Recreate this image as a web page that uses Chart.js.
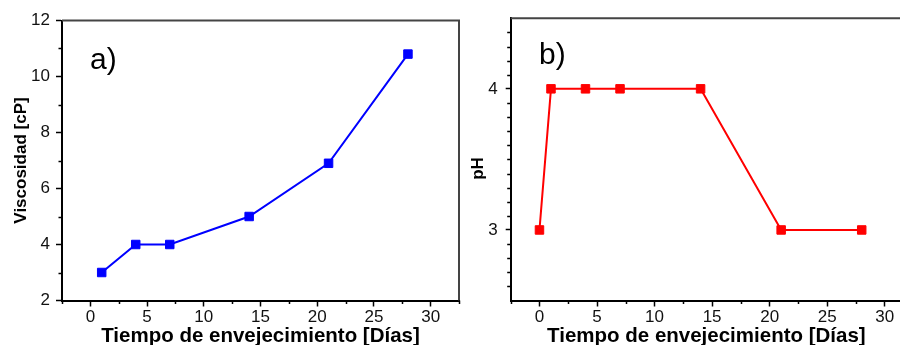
<!DOCTYPE html>
<html>
<head>
<meta charset="utf-8">
<script src="https://cdn.jsdelivr.net/npm/chart.js@4/dist/chart.umd.min.js"></script>
<style>
  html, body { margin: 0; padding: 0; background: #fff; width: 900px; height: 345px; overflow: hidden; }
  #panelA { position: absolute; left: 0; top: 0; }
  #panelB { position: absolute; left: 460px; top: 0; }
</style>
</head>
<body>
<canvas id="panelA" width="466" height="360"></canvas>
<canvas id="panelB" width="470" height="360"></canvas>
<script>
// Viscosity over ageing time
const diasVisc = [1, 4, 7, 14, 21, 28];
const viscosidad = [3.0, 4.0, 4.0, 5.0, 6.9, 10.8];

// pH over ageing time
const diasPH = [0, 1, 4, 7, 14, 21, 28];
const valoresPH = [3, 4, 4, 4, 4, 3, 3];

// Axis ticks
const ticksDias = [0, 5, 10, 15, 20, 25, 30];
const ticksDiasMenores = [-2.5, 2.5, 7.5, 12.5, 17.5, 22.5, 27.5, 32.5];
const ticksVisc = [2, 4, 6, 8, 10, 12];
const ticksViscMenores = [3, 5, 7, 9, 11];
const ticksPH = [3, 4];
const ticksPHMenores = [2.6, 2.7, 2.8, 2.9, 3.1, 3.2, 3.3, 3.4, 3.5, 3.6, 3.7, 3.8, 3.9,
                        4.1, 4.2, 4.3, 4.4];

const FONT = "'Liberation Sans', Arial, sans-serif";
const INK = '#111';
const TICK_SIZE = 17;

function pts(xs, ys) { return xs.map((x, i) => ({ x: x, y: ys[i] })); }

// Short outward minor ticks on both axes
const minorTicks = {
  id: 'minorTicks',
  afterDraw(chart, args, opts) {
    const ctx = chart.ctx;
    const { x, y } = chart.scales;
    ctx.save();
    ctx.strokeStyle = '#000';
    ctx.lineWidth = 1.5;
    ctx.beginPath();
    (opts.x || []).forEach(v => {
      const px = Math.round(x.getPixelForValue(v)) + 0.5;
      ctx.moveTo(px, y.bottom);
      ctx.lineTo(px, y.bottom + 3.5);
    });
    (opts.y || []).forEach(v => {
      const py = Math.round(y.getPixelForValue(v)) + 0.5;
      ctx.moveTo(x.left - 3.5, py);
      ctx.lineTo(x.left, py);
    });
    ctx.stroke();
    ctx.restore();
  }
};

// Top and right edges of the plot frame
const frame = {
  id: 'frame',
  beforeDatasetsDraw(chart) {
    const { ctx, chartArea: a } = chart;
    ctx.save();
    ctx.strokeStyle = '#444';
    ctx.lineWidth = 2;
    ctx.beginPath();
    ctx.moveTo(a.left, a.top);
    ctx.lineTo(a.right, a.top);
    ctx.lineTo(a.right, a.bottom);
    ctx.stroke();
    ctx.restore();
  }
};

// Panel letter and free-standing axis captions
const captions = {
  id: 'captions',
  afterDraw(chart, args, opts) {
    const ctx = chart.ctx;
    (opts.items || []).forEach(it => {
      ctx.save();
      ctx.fillStyle = '#000';
      ctx.font = it.font;
      ctx.textAlign = it.align || 'left';
      ctx.textBaseline = it.baseline || 'alphabetic';
      ctx.translate(it.x, it.y);
      if (it.rotate) ctx.rotate(it.rotate);
      ctx.fillText(it.text, 0, 0);
      ctx.restore();
    });
  }
};

function xScale(max, titleText) {
  return {
    type: 'linear',
    min: -2.5,
    max: max,
    afterBuildTicks: s => { s.ticks = ticksDias.map(v => ({ value: v })); },
    afterFit: s => { s.height = 59.5; },
    border: { display: true, color: '#000', width: 2 },
    grid: { display: true, drawOnChartArea: false, drawTicks: true, tickLength: 6, tickColor: '#000', tickWidth: 1.5 },
    ticks: { color: INK, font: { family: FONT, size: TICK_SIZE }, padding: 1, maxRotation: 0 },
    title: { display: true, text: titleText, color: '#000',
             font: { family: FONT, size: 20.5, weight: 'bold' }, padding: { top: 0, bottom: 11.7 } }
  };
}

const baseOpts = {
  responsive: false,
  animation: false,
  events: [],
  plugins: { legend: { display: false }, tooltip: { enabled: false } }
};

new Chart(document.getElementById('panelA'), {
  type: 'line',
  data: {
    datasets: [{
      data: pts(diasVisc, viscosidad),
      borderColor: '#0000ff',
      backgroundColor: '#0000ff',
      borderWidth: 2,
      pointStyle: 'rect',
      pointRadius: 6,
      pointBorderWidth: 1,
      tension: 0
    }]
  },
  options: Object.assign({}, baseOpts, {
    layout: { padding: { left: 0, top: 20.5, right: 3, bottom: 0 } },
    scales: {
      x: xScale(32.5, 'Tiempo de envejecimiento [Días]'),
      y: {
        type: 'linear', min: 2, max: 12,
        afterBuildTicks: s => { s.ticks = ticksVisc.map(v => ({ value: v })); },
        afterFit: s => { s.width = 62; },
        border: { display: true, color: '#000', width: 2 },
        grid: { display: true, drawOnChartArea: false, drawTicks: true, tickLength: 6, tickColor: '#000', tickWidth: 1.5 },
        ticks: { color: INK, font: { family: FONT, size: TICK_SIZE }, padding: 6 },
        title: { display: true, text: 'Viscosidad [cP]', color: '#000',
                 font: { family: FONT, size: 17, weight: 'bold' }, padding: { top: 11, bottom: 0 } }
      }
    },
    plugins: Object.assign({}, baseOpts.plugins, {
      minorTicks: { x: ticksDiasMenores, y: ticksViscMenores },
      captions: { items: [ { text: 'a)', x: 90, y: 69, font: "30px " + FONT } ] }
    })
  }),
  plugins: [frame, minorTicks, captions]
});

new Chart(document.getElementById('panelB'), {
  type: 'line',
  data: {
    datasets: [{
      data: pts(diasPH, valoresPH),
      borderColor: '#ff0000',
      backgroundColor: '#ff0000',
      borderWidth: 2,
      pointStyle: 'rect',
      pointRadius: 6,
      pointBorderWidth: 1,
      tension: 0
    }]
  },
  options: Object.assign({}, baseOpts, {
    layout: { padding: { left: 0, top: 18.3, right: 28, bottom: 0 } },
    scales: {
      x: xScale(31.5, 'Tiempo de envejecimiento [Días]'),
      y: {
        type: 'linear', min: 2.5, max: 4.5,
        afterBuildTicks: s => { s.ticks = ticksPH.map(v => ({ value: v })); },
        afterFit: s => { s.width = 50.7; },
        border: { display: true, color: '#000', width: 2 },
        grid: { display: true, drawOnChartArea: false, drawTicks: true, tickLength: 5, tickColor: '#000', tickWidth: 1.5 },
        ticks: { color: INK, font: { family: FONT, size: TICK_SIZE }, padding: 8 },
        title: { display: false }
      }
    },
    plugins: Object.assign({}, baseOpts.plugins, {
      minorTicks: { x: ticksDiasMenores, y: ticksPHMenores },
      captions: { items: [
        { text: 'b)', x: 79, y: 64, font: "30px " + FONT },
        { text: 'pH', x: 18, y: 168.5, font: "bold 17px " + FONT, align: 'center', baseline: 'middle', rotate: -Math.PI / 2 }
      ] }
    })
  }),
  plugins: [frame, minorTicks, captions]
});
</script>
</body>
</html>
